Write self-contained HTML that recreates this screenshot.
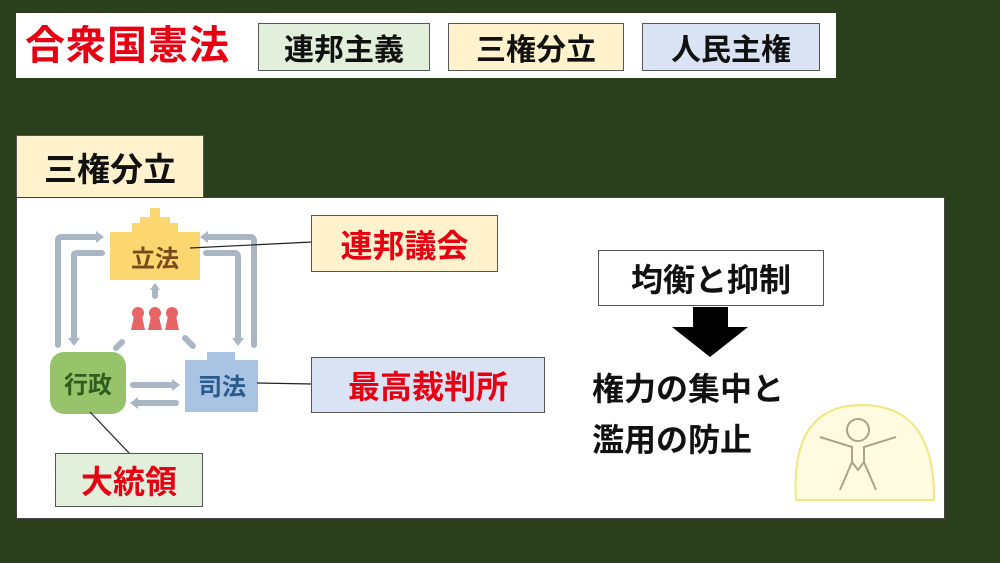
<!DOCTYPE html>
<html><head><meta charset="utf-8"><style>
body{margin:0;width:1000px;height:563px;background:#2a3f1c;position:relative;overflow:hidden;font-family:"Liberation Sans","Noto Sans CJK JP",sans-serif;font-weight:bold}
div{position:absolute;box-sizing:border-box}
.b{border:1.5px solid #555;display:flex;align-items:center;justify-content:center;font-size:30px;color:#111}
.r{color:#e60012}
</style></head><body>
<div style="left:16px;top:13px;width:820px;height:65px;background:#fff"></div>
<div class="r" style="left:25px;top:22px;font-size:40px;line-height:48px;letter-spacing:1px">合衆国憲法</div>
<div class="b" style="left:258px;top:23px;width:172px;height:48px;background:#e2efda">連邦主義</div>
<div class="b" style="left:448px;top:23px;width:176px;height:48px;background:#fff2cc">三権分立</div>
<div class="b" style="left:642px;top:23px;width:178px;height:48px;background:#dae3f3">人民主権</div>
<div class="b" style="left:16px;top:135px;width:188px;height:64px;background:#fff2cc;font-size:33px">三権分立</div>
<div style="left:16px;top:197px;width:929px;height:322px;background:#fff;border:1px solid #444"></div>
<svg style="position:absolute;left:0;top:0" width="1000" height="563">
<g fill="none" stroke="#aab6c4" stroke-width="6" stroke-linecap="round">
<path d="M58 345 V240 Q58 237 62 237 H96"/><path d="M74 340 V255 Q74 253 78 253 H102"/>
<path d="M208 237 H250 Q254 237 254 241 V345"/><path d="M206 253 H234 Q238 253 238 257 V340"/>
<path d="M133 385 H172"/><path d="M138 403 H176"/>
<path d="M155 296 V288"/><path d="M122 342 L116 348"/><path d="M185 338 L193 346"/>
</g>
<g fill="#aab6c4"><path d="M96 231 L104 237 L96 243Z"/><path d="M68 338 L74 346 L80 338Z"/><path d="M208 231 L200 237 L208 243Z"/><path d="M232 338 L238 346 L244 338Z"/><path d="M172 379 L180 385 L172 391Z"/><path d="M138 397 L130 403 L138 409Z"/><path d="M150 290 L155 283 L160 290Z"/></g>
<g fill="#e86565"><circle cx="138" cy="313" r="6"/><path d="M134 316 h8 l3 14 h-14z"/><circle cx="155" cy="313" r="6"/><path d="M151 316 h8 l3 14 h-14z"/><circle cx="172" cy="313" r="6"/><path d="M168 316 h8 l3 14 h-14z"/></g>
<path d="M110 232 H132 V223 H140 V217 H150 V208 H160 V217 H170 V223 H178 V232 H200 V280 H110Z" fill="#fcd770"/>
<text x="155" y="267" font-size="24" fill="#7a4a1a" text-anchor="middle" font-weight="bold">立法</text>
<rect x="50" y="352" width="76" height="62" rx="14" fill="#97c46a"/>
<text x="88" y="393" font-size="24" fill="#2f5d1d" text-anchor="middle" font-weight="bold">行政</text>
<path d="M185 360 H207 V352 H235 V360 H258 V412 H185Z" fill="#a9c3e3"/>
<text x="222" y="395" font-size="24" fill="#2a5b8c" text-anchor="middle" font-weight="bold">司法</text>
<g stroke="#222" stroke-width="1.2"><line x1="190" y1="248" x2="312" y2="242"/><line x1="257" y1="383" x2="312" y2="384"/><line x1="90" y1="412" x2="130" y2="454"/></g>
<path d="M796 500 Q790 405 862 405 Q935 405 934 500 Z" fill="#fffbe0" stroke="#f2e680" stroke-width="2"/>
<g fill="none" stroke="#aaa38a" stroke-width="2"><circle cx="858" cy="430" r="11"/><path d="M820 437 L852 447 V462 L840 490 M896 437 L864 447 V462 L876 490 M852 462 L858 470 L864 462"/></g>
<path d="M693 307 H728 V327 H748 L710 357 L672 327 H693Z" fill="#000"/>
</svg>
<div class="b r" style="left:311px;top:215px;width:187px;height:57px;background:#fff2cc;font-size:32px">連邦議会</div>
<div class="b r" style="left:311px;top:357px;width:234px;height:56px;background:#dae3f3;font-size:32px">最高裁判所</div>
<div class="b r" style="left:55px;top:453px;width:148px;height:54px;background:#e2efda;font-size:32px">大統領</div>
<div class="b" style="left:598px;top:250px;width:226px;height:56px;background:#fff;font-size:32px">均衡と抑制</div>
<div style="left:592px;top:364px;font-size:32px;line-height:51px;color:#111">権力の集中と<br>濫用の防止</div>
</body></html>
